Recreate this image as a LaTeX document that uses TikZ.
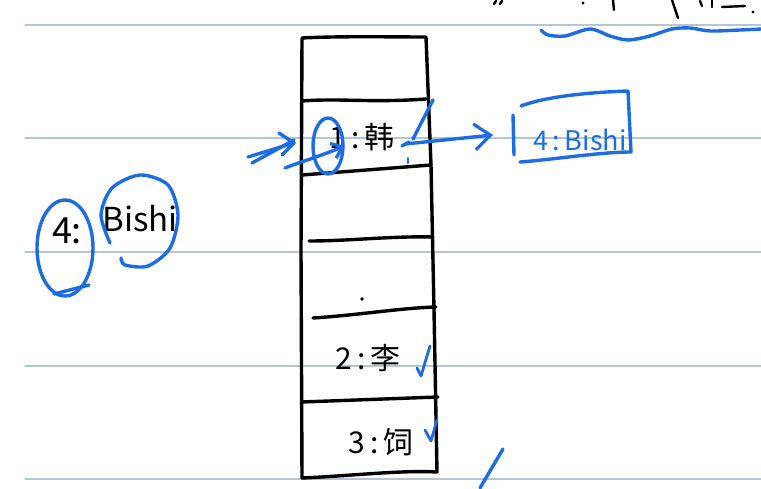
\documentclass[tikz,border=0pt]{standalone}
\usepackage{fontspec}
\setmainfont{Noto Sans CJK SC}
\usetikzlibrary{arrows.meta,shapes.geometric}
\definecolor{ink}{RGB}{28,108,228}
\definecolor{ruling}{RGB}{178,198,212}
\begin{document}
\begin{tikzpicture}[x=1pt,y=-1pt,line cap=round,line join=round,
  ruleline/.style={ruling,line width=1.3pt},
  pen/.style={black,line width=3.4pt},
  bpen/.style={ink,line width=3.4pt},
  txt/.style={inner sep=0pt,font=\fontsize{30}{32}\selectfont},
  btxt/.style={inner sep=0pt,text=ink,font=\fontsize{27}{29}\selectfont},
  barb/.style={-{Straight Barb[length=16pt,width=26pt,line width=3.2pt]}}
]
\useasboundingbox (0,0) rectangle (761,489);
\fill[white] (0,0) rectangle (761,489);
% ruled paper
\foreach \y in {25,138,252,366,479} \draw[ruleline] (25,\y) -- (761,\y);

% table
\draw[pen] (302,38) .. controls (340,36) and (390,37) .. (426,37)
  -- (431,165) -- (434,310) -- (437,472)
  .. controls (400,470) and (350,476) .. (302,478) -- (301,250) -- cycle;
\draw[pen] (302,101) .. controls (340,98) and (370,103) .. (426,99);
\draw[pen] (302,175) -- (431,165);
\draw[pen] (309,241) .. controls (350,241) and (390,236) .. (433,237);
\draw[pen] (313,318) .. controls (360,315) and (400,308) .. (436,307);
\draw[pen] (302,402) -- (438,397);
\fill (362,299) circle (1.8);

% cell texts
\node[txt] (t1) at (362,137) {1\,:\,韩};
\node[txt] (t2) at (368,358) {2\,:\,李};
\node[txt] (t3) at (381,442) {3\,:\,饲};

% checks
\draw[bpen,line width=2.8pt] (417,368) -- (421,376) -- (430,346);
\draw[bpen,line width=2.8pt] (425,430) -- (431,441) -- (437,420);
\draw[bpen] (480,488) -- (503,449);

% circle round 1 and arrows into it
\node[ellipse,draw=ink,line width=3.4pt,minimum width=30pt,minimum height=56pt,inner sep=0pt] (c1) at (328,146) {};
\coordinate (inA) at (248,157);
\coordinate (inB) at (252,163);
\coordinate (inTip) at (294,143);
\draw[bpen] (inA) -- (inTip);
\draw[bpen] (inB) -- ([yshift=3pt]inTip);
\draw[bpen] (279,133) -- (inTip) -- (282,155);
\coordinate (cS) at (285,168);
\draw[bpen,-{Straight Barb[length=10pt,width=16pt,line width=3.2pt]}] (cS) .. controls (300,162) and (318,157) .. (c1.east);

% arrow to new box
\coordinate (src) at (405,144);
\coordinate (boxin) at (493,135);
\draw[bpen] (433,100) -- (413,139);
\draw[bpen] (402,146) -- (409,142);
\draw[bpen,line width=2pt] (408,158) -- (408,163);
\draw[bpen,barb] (src) -- (boxin);

% box 4:Bishi
\node[btxt] (box) at (580,140) {4\,:\,Bishi};
\draw[bpen] (513,115) -- (514,155);
\draw[bpen] (521,106) .. controls (550,95) and (600,92) .. (628,91) -- (631,152) .. controls (600,152) and (550,160) .. (520,162);

% left 4: Bishi
\node[inner sep=0pt,font=\fontsize{36}{38}\selectfont] (f4) at (67,231) {4:};
\node[inner sep=0pt,font=\fontsize{33}{35}\selectfont] (bishi) at (140,219) {Bishi};
\draw[bpen] (65,248) ellipse (28 and 48);
\draw[bpen] (54,294) -- (89,285);
\draw[bpen] plot[smooth] coordinates {(110,243) (101,215) (112,188) (140,175) (168,185) (178,215) (170,248) (148,266) (125,265) (121,258)};

% top right fragments
\draw[pen,line width=2.4pt] (494,4) -- (496,1);
\draw[pen,line width=2.4pt] (500,4) -- (502,1);
\fill (583,3) circle (1.6);
\draw[pen,line width=2.4pt] (613,0) -- (614,10);
\draw[pen,line width=2.4pt] (672,0) -- (678,18);
\draw[pen,line width=2.4pt] (700,1) -- (702,6);
\draw[pen,line width=2.4pt] (712,0) -- (712,7);
\draw[pen,line width=2.4pt] (722,7) -- (745,6);
\fill (753,12) circle (1.6);
\draw[bpen] plot[smooth] coordinates {(541,30) (548,35) (565,36) (590,29) (610,36) (628,40) (650,36) (672,29) (690,28) (710,31) (740,30) (761,29)};
\end{tikzpicture}
\end{document}
